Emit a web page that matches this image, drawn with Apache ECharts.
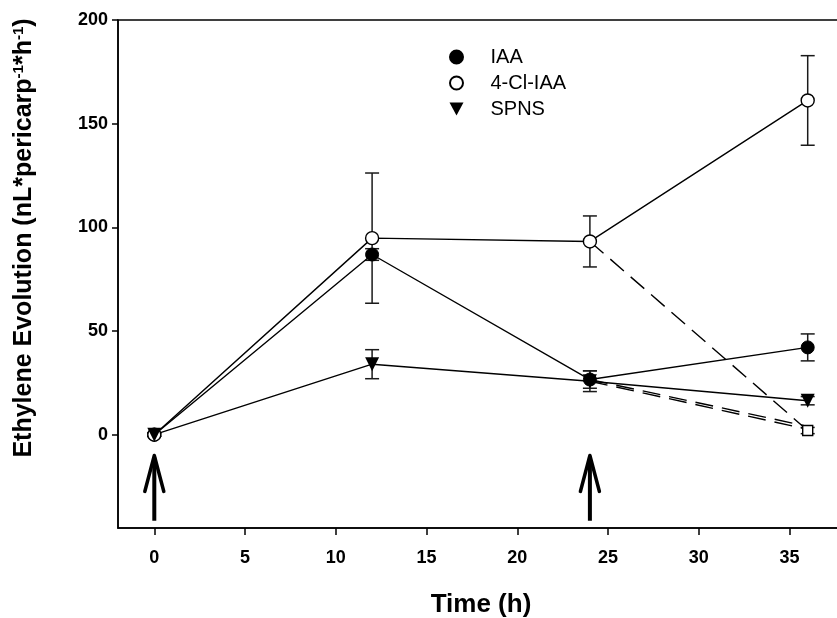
<!DOCTYPE html>
<html>
<head>
<meta charset="utf-8">
<title>Ethylene Evolution</title>
<script src="https://cdn.jsdelivr.net/npm/echarts@6/dist/echarts.min.js"></script>
<style>
  html, body { margin: 0; padding: 0; background: #fff; }
  #chart { width: 837px; height: 618px; }
</style>
</head>
<body>
<div id="chart"></div>
<script>
// sampling times (h)
const times = [0, 12, 24, 36]
// means and half error bars
const iaaMean = [0, 86.9, 26.6, 42.1]
const iaaErr = [0.8, 2.8, 4.2, 6.5]
const clIaaMean = [0, 94.8, 93.2, 161.2]
const clIaaErr = [0.8, 31.4, 12.3, 21.6]
const spnsMean = [0, 34, 25.8, 16.4]
const spnsErr = [0.8, 7, 5, 2]
// auxin removed after the second application (dashed lines)
const removedTimes = [24, 36]
const iaaRemoved = [26.6, 4.0]
const clIaaRemoved = [93.2, 2.0]
const spnsRemoved = [25.8, 2.6]
const removedErr = 1.5
// application times (arrows)
const arrowTimes = [0, 24]
const arrowFrom = -41.5
const arrowTo = -10
// tick labels
const xTicks = [0, 5, 10, 15, 20, 25, 30, 35]
const yTicks = [0, 50, 100, 150, 200]

const FONT = 'Liberation Sans, Arial, Helvetica, sans-serif'
// downward triangle used for SPNS in the legend
const TRIANGLE_DOWN = 'path://M0,0 L12,0 L6,11 Z'

const chart = echarts.init(document.getElementById('chart'))

function pairs(xs, ys) {
  return xs.map((x, i) => [x, ys[i]])
}
function bars(xs, ys, es) {
  return xs.map((x, i) => [x, ys[i] - es[i], ys[i] + es[i]])
}

// error bar with caps
function errorBarItem(params, api) {
  const x = api.value(0)
  const lo = api.coord([x, api.value(1)])
  const hi = api.coord([x, api.value(2)])
  const w = 7
  const style = { stroke: '#1a1a1a', lineWidth: 1.5, fill: null }
  return {
    type: 'group',
    children: [
      { type: 'line', shape: { x1: lo[0], y1: lo[1], x2: hi[0], y2: hi[1] }, style },
      { type: 'line', shape: { x1: lo[0] - w, y1: lo[1], x2: lo[0] + w, y2: lo[1] }, style },
      { type: 'line', shape: { x1: hi[0] - w, y1: hi[1], x2: hi[0] + w, y2: hi[1] }, style },
    ],
  }
}

// upward arrow marking auxin application
function arrowItem(params, api) {
  const x = api.value(0)
  const bottom = api.coord([x, api.value(1)])
  const top = api.coord([x, api.value(2)])
  return {
    type: 'group',
    children: [
      {
        type: 'line',
        shape: { x1: bottom[0], y1: bottom[1], x2: top[0], y2: top[1] + 2 },
        style: { stroke: '#000', lineWidth: 4 },
      },
      {
        type: 'polyline',
        shape: { points: [[top[0] - 9.5, top[1] + 36], [top[0], top[1]], [top[0] + 9.5, top[1] + 36]] },
        style: { stroke: '#000', lineWidth: 3.5, fill: null, lineJoin: 'round', lineCap: 'round' },
      },
    ],
  }
}

const solidLine = { color: '#000', width: 1.4 }
const dashedLine = { color: '#000', width: 1.4, type: [18, 9] }

const option = {
  animation: false,
  backgroundColor: '#fff',
  grid: {
    left: 118,
    right: -7,
    top: 20,
    bottom: 90,
    show: true,
    borderColor: '#000',
    borderWidth: 1.5,
    backgroundColor: 'transparent',
    outerBoundsMode: 'none',
  },
  legend: {
    orient: 'vertical',
    left: 444,
    top: 42,
    itemWidth: 14,
    itemHeight: 13,
    itemGap: 6,
    textStyle: { fontFamily: FONT, fontSize: 20, color: '#000', lineHeight: 20, padding: [0, 0, 0, 22] },
    data: [
      { name: 'IAA', icon: 'circle' },
      { name: '4-Cl-IAA', icon: 'circle' },
      { name: 'SPNS', icon: TRIANGLE_DOWN },
    ],
  },
  xAxis: {
    type: 'value',
    min: -2,
    max: 38,
    name: 'Time (h)',
    nameLocation: 'middle',
    nameGap: 64,
    nameTextStyle: { fontFamily: FONT, fontSize: 26, fontWeight: 'bold', color: '#000' },
    axisLine: { show: true, onZero: false, lineStyle: { color: '#000', width: 1.5 } },
    axisTick: { show: true, length: 7, customValues: xTicks, lineStyle: { color: '#000', width: 1.5 } },
    axisLabel: { customValues: xTicks, margin: 21, fontFamily: FONT, fontSize: 18, fontWeight: 'bold', color: '#000' },
    splitLine: { show: false },
  },
  yAxis: {
    type: 'value',
    min: -45,
    max: 200,
    axisLine: { show: true, onZero: false, lineStyle: { color: '#000', width: 1.5 } },
    axisTick: { show: true, length: 6, customValues: yTicks, lineStyle: { color: '#000', width: 1.5 } },
    axisLabel: { customValues: yTicks, margin: 10, fontFamily: FONT, fontSize: 18, fontWeight: 'bold', color: '#000' },
    splitLine: { show: false },
  },
  graphic: [
    {
      type: 'text',
      x: 24,
      y: 238,
      rotation: Math.PI / 2,
      style: {
        text: 'Ethylene Evolution (nL*pericarp{s|-1}*h{s|-1})',
        fontFamily: FONT,
        fontSize: 25,
        fontWeight: 'bold',
        fill: '#000',
        align: 'center',
        verticalAlign: 'middle',
        rich: {
          s: { fontFamily: FONT, fontSize: 15, fontWeight: 'bold', fill: '#000', verticalAlign: 'top', padding: [0, 0, 10, 0] },
        },
      },
    },
  ],
  series: [
    // error bars underneath the markers
    { name: 'err-iaa', type: 'custom', renderItem: errorBarItem, data: bars(times, iaaMean, iaaErr), z: 1, silent: true },
    { name: 'err-cl', type: 'custom', renderItem: errorBarItem, data: bars(times, clIaaMean, clIaaErr), z: 1, silent: true },
    { name: 'err-spns', type: 'custom', renderItem: errorBarItem, data: bars(times, spnsMean, spnsErr), z: 1, silent: true },
    {
      name: 'err-removed',
      type: 'custom',
      renderItem: errorBarItem,
      data: [[removedTimes[1], clIaaRemoved[1] - removedErr, clIaaRemoved[1] + removedErr]],
      z: 1,
      silent: true,
    },
    // dashed lines after removal
    {
      name: 'IAA removed',
      type: 'line',
      data: pairs(removedTimes, iaaRemoved),
      symbol: 'none',
      lineStyle: dashedLine,
      z: 2,
    },
    {
      name: 'SPNS removed',
      type: 'line',
      data: pairs(removedTimes, spnsRemoved),
      symbol: 'none',
      lineStyle: dashedLine,
      z: 2,
    },
    {
      name: '4-Cl-IAA removed',
      type: 'line',
      data: [
        { value: [removedTimes[0], clIaaRemoved[0]], symbol: 'none' },
        { value: [removedTimes[1], clIaaRemoved[1]] },
      ],
      symbol: 'rect',
      symbolSize: 10,
      itemStyle: { color: '#fff', borderColor: '#000', borderWidth: 1.4 },
      lineStyle: dashedLine,
      z: 3,
    },
    {
      name: 'IAA',
      type: 'line',
      data: pairs(times, iaaMean),
      symbol: 'circle',
      symbolSize: 13,
      itemStyle: { color: '#000', borderColor: '#000', borderWidth: 1 },
      lineStyle: solidLine,
      z: 4,
    },
    {
      name: '4-Cl-IAA',
      type: 'line',
      data: pairs(times, clIaaMean),
      symbol: 'circle',
      symbolSize: 13,
      itemStyle: { color: '#fff', borderColor: '#000', borderWidth: 1.4 },
      lineStyle: solidLine,
      z: 4,
    },
    {
      name: 'SPNS',
      type: 'line',
      data: pairs(times, spnsMean),
      symbol: 'triangle',
      symbolRotate: 180,
      symbolSize: 14,
      itemStyle: { color: '#000' },
      lineStyle: solidLine,
      z: 4,
    },
    // application arrows
    {
      name: 'application',
      type: 'custom',
      renderItem: arrowItem,
      data: arrowTimes.map(t => [t, arrowFrom, arrowTo]),
      z: 5,
      silent: true,
    },
  ],
}

chart.setOption(option)
</script>
</body>
</html>
